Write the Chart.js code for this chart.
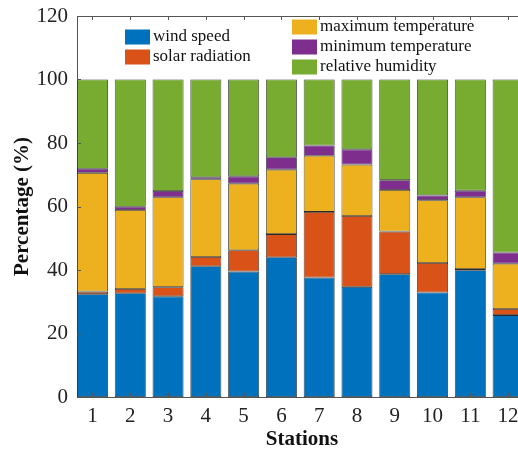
<!DOCTYPE html>
<html>
<head>
<meta charset="utf-8">
<script src="https://cdn.jsdelivr.net/npm/chart.js@4.4.0/dist/chart.umd.min.js"></script>
<style>
html, body { margin: 0; padding: 0; background: #fff; overflow: hidden; }
#wrap { width: 528px; height: 450px; }
</style>
</head>
<body>
<div id="wrap"><canvas id="chart" width="528" height="450"></canvas></div>
<script>
// share of each variable per station (%)
var stations = [1, 2, 3, 4, 5, 6, 7, 8, 9, 10, 11, 12];
var windSpeed = [32.4, 32.7, 31.7, 41.2, 39.5, 44.0, 37.6, 34.7, 38.7, 32.9, 39.9, 25.8];
var solarRad  = [0.8, 1.3, 2.9, 2.9, 6.7, 7.3, 20.7, 22.3, 13.4, 9.3, 0.4, 1.9];
var maxTemp   = [37.4, 24.9, 28.3, 24.5, 21.0, 20.3, 17.7, 16.2, 13.1, 19.8, 22.6, 14.3];
var minTemp   = [1.3, 1.0, 2.0, 0.6, 2.3, 3.9, 3.2, 4.8, 3.1, 1.5, 2.1, 3.5];
var relHum    = [28.1, 40.1, 35.1, 30.8, 30.5, 24.5, 20.8, 22.0, 31.7, 36.5, 35.0, 54.5];
var yTicks    = [0, 20, 40, 60, 80, 100, 120];

var serif = '"Liberation Serif", "Times New Roman", serif';
var axisColor = '#555';

function ds(label, values, color) {
  return {
    label: label,
    data: values.map(function(v, i) { return { x: stations[i], y: v }; }),
    backgroundColor: color,
    borderColor: '#2a2a2a',
    borderWidth: 0.8,
    borderSkipped: false,
    barPercentage: 0.82,
    categoryPercentage: 1.0
  };
}

// matlab-like box: top border line + inward ticks, and a two-block legend
var frame = {
  id: 'frame',
  afterDatasetsDraw: function(chart) {
    var ctx = chart.ctx, a = chart.chartArea;
    var xs = chart.scales.x, ys = chart.scales.y;
    ctx.save();
    ctx.strokeStyle = axisColor;
    ctx.lineWidth = 1;
    ctx.beginPath();
    ctx.moveTo(a.left, a.top + 0.5);
    ctx.lineTo(a.right, a.top + 0.5);
    stations.forEach(function(s) {
      var px = Math.round(xs.getPixelForValue(s)) + 0.5;
      ctx.moveTo(px, a.top);
      ctx.lineTo(px, a.top + 4);
      ctx.moveTo(px, a.bottom);
      ctx.lineTo(px, a.bottom - 4);
    });
    yTicks.forEach(function(v) {
      var py = Math.round(ys.getPixelForValue(v)) + 0.5;
      ctx.moveTo(a.left, py);
      ctx.lineTo(a.left + 4, py);
    });
    ctx.stroke();

    // legend, two blocks placed relative to the plot box
    var blocks = [
      { x: a.left + 48, y: a.top + 21, items: [0, 1] },
      { x: a.left + 215, y: a.top + 11, items: [2, 3, 4] }
    ];
    ctx.font = '17px ' + serif;
    ctx.textBaseline = 'middle';
    ctx.textAlign = 'left';
    blocks.forEach(function(b) {
      b.items.forEach(function(idx, k) {
        var d = chart.data.datasets[idx];
        var cy = b.y + k * 20;
        ctx.fillStyle = d.backgroundColor;
        ctx.fillRect(b.x, cy - 7.5, 25, 15);
        ctx.fillStyle = '#111';
        ctx.fillText(d.label, b.x + 28, cy);
      });
    });
    ctx.restore();
  }
};

new Chart(document.getElementById('chart').getContext('2d'), {
  type: 'bar',
  data: {
    datasets: [
      ds('wind speed', windSpeed, '#0072BD'),
      ds('solar radiation', solarRad, '#D95319'),
      ds('maximum temperature', maxTemp, '#EDB120'),
      ds('minimum temperature', minTemp, '#7E2F8E'),
      ds('relative humidity', relHum, '#77AC30')
    ]
  },
  options: {
    responsive: false,
    animation: false,
    layout: { padding: { top: 16, right: 1, left: 0, bottom: 0 } },
    plugins: {
      legend: { display: false },
      tooltip: { enabled: false }
    },
    scales: {
      x: {
        type: 'linear',
        stacked: true,
        offset: false,
        min: 0.59, max: 12.5,
        afterBuildTicks: function(s) { s.ticks = stations.map(function(v) { return { value: v }; }); },
        grid: { display: false, drawTicks: false, offset: false },
        border: { display: true, color: axisColor, width: 1 },
        ticks: { color: '#222', padding: 7, font: { family: serif, size: 21 } },
        title: {
          display: true, text: 'Stations', color: '#111',
          font: { family: serif, size: 21, weight: 'bold', lineHeight: 1 },
          padding: { top: 0, bottom: 0 }
        },
        afterFit: function(s) {
          s.height = 53;
          s.paddingLeft = 0;
          s.paddingRight = 0;
        }
      },
      y: {
        stacked: true,
        min: 0, max: 120,
        afterBuildTicks: function(s) { s.ticks = yTicks.map(function(v) { return { value: v }; }); },
        grid: { display: false, drawTicks: false },
        border: { display: true, color: axisColor, width: 1 },
        ticks: { color: '#222', padding: 9, font: { family: serif, size: 21 } },
        title: {
          display: true, text: 'Percentage (%)', color: '#111',
          font: { family: serif, size: 21, weight: 'bold', lineHeight: 1 },
          padding: { top: 12, bottom: 0 }
        },
        afterFit: function(s) {
          s.width = 77;
          // let the 120 label overhang the top of the plot box
          s.paddingTop = 0;
          s.paddingBottom = 0;
        }
      }
    }
  },
  plugins: [frame]
});
</script>
</body>
</html>
